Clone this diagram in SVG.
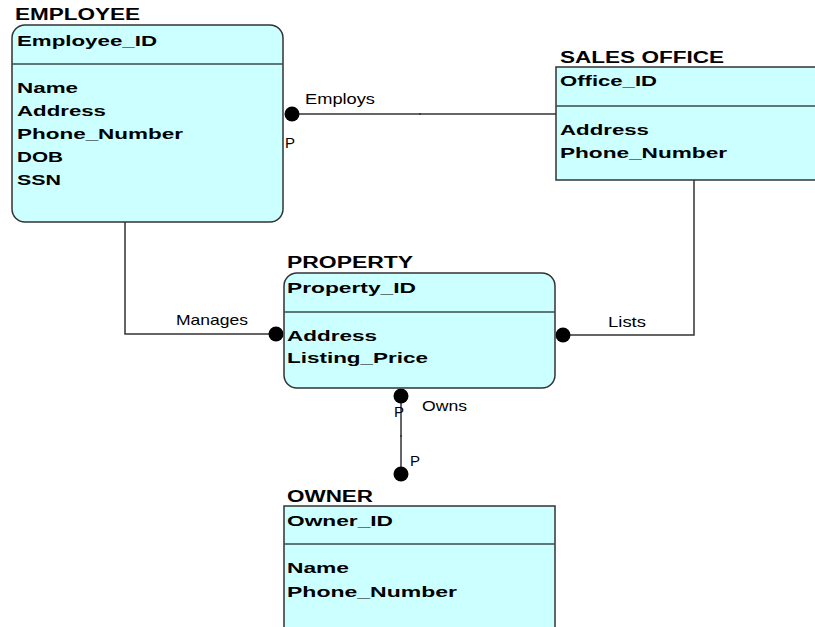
<svg xmlns="http://www.w3.org/2000/svg" width="815" height="627" viewBox="0 0 815 627">
<style>
.box{fill:#ccffff;stroke:#333;stroke-width:1.5}
.div{stroke:#3a4a4a;stroke-width:1.5}
.t{font-family:"Liberation Sans",Arial,sans-serif;font-weight:bold;font-size:15px;fill:#000}
.h{font-family:"Liberation Sans",Arial,sans-serif;font-weight:bold;font-size:16px;fill:#000}
.l{font-family:"Liberation Sans",Arial,sans-serif;font-size:15px;fill:#000}
.c{fill:none;stroke:#333;stroke-width:1.5}
.dot{fill:#000}
</style>
<rect width="815" height="627" fill="#fff"/>
<g id="connectors">
<line class="c" x1="292" y1="114" x2="556" y2="114"/>
<circle cx="420" cy="114" r="1" fill="#333"/>
<polyline class="c" points="125,222 125,334 276,334"/>
<polyline class="c" points="694,180 694,335 563,335"/>
<line class="c" x1="401" y1="396" x2="401" y2="474"/>
<circle cx="401" cy="436" r="1" fill="#333"/>
<circle class="dot" cx="292" cy="114" r="7.5"/>
<circle class="dot" cx="276" cy="334" r="7.5"/>
<circle class="dot" cx="563" cy="335" r="7.5"/>
<circle class="dot" cx="401" cy="396" r="7.5"/>
<circle class="dot" cx="401" cy="474" r="7.5"/>
<text class="l" x="305" y="104" textLength="70" lengthAdjust="spacingAndGlyphs">Employs</text>
<text class="l" x="285" y="148">P</text>
<text class="l" x="176" y="325" textLength="72" lengthAdjust="spacingAndGlyphs">Manages</text>
<text class="l" x="608" y="327" textLength="38" lengthAdjust="spacingAndGlyphs">Lists</text>
<text class="l" x="394" y="417">P</text>
<text class="l" x="422" y="411" textLength="45" lengthAdjust="spacingAndGlyphs">Owns</text>
<text class="l" x="410" y="466">P</text>
</g>
<g id="employee">
<text class="h" x="15" y="20" textLength="125" lengthAdjust="spacingAndGlyphs">EMPLOYEE</text>
<rect class="box" x="12" y="25" width="271" height="197" rx="13"/>
<line class="div" x1="12" y1="64" x2="283" y2="64"/>
<text class="t" x="17" y="46" textLength="140" lengthAdjust="spacingAndGlyphs">Employee_ID</text>
<text class="t" x="17" y="93" textLength="61" lengthAdjust="spacingAndGlyphs">Name</text>
<text class="t" x="17" y="116" textLength="89" lengthAdjust="spacingAndGlyphs">Address</text>
<text class="t" x="17" y="139" textLength="166" lengthAdjust="spacingAndGlyphs">Phone_Number</text>
<text class="t" x="17" y="162" textLength="46" lengthAdjust="spacingAndGlyphs">DOB</text>
<text class="t" x="17" y="185" textLength="44" lengthAdjust="spacingAndGlyphs">SSN</text>
</g>
<g id="sales-office">
<text class="h" x="560" y="63" textLength="164" lengthAdjust="spacingAndGlyphs">SALES OFFICE</text>
<rect class="box" x="556" y="67" width="271" height="113"/>
<line class="div" x1="556" y1="106" x2="827" y2="106"/>
<text class="t" x="560" y="86" textLength="97" lengthAdjust="spacingAndGlyphs">Office_ID</text>
<text class="t" x="560" y="135" textLength="89" lengthAdjust="spacingAndGlyphs">Address</text>
<text class="t" x="560" y="158" textLength="167" lengthAdjust="spacingAndGlyphs">Phone_Number</text>
</g>
<g id="property">
<text class="h" x="287" y="268" textLength="126" lengthAdjust="spacingAndGlyphs">PROPERTY</text>
<rect class="box" x="284" y="273" width="271" height="115" rx="13"/>
<line class="div" x1="284" y1="312" x2="555" y2="312"/>
<text class="t" x="287" y="293" textLength="129" lengthAdjust="spacingAndGlyphs">Property_ID</text>
<text class="t" x="287" y="341" textLength="90" lengthAdjust="spacingAndGlyphs">Address</text>
<text class="t" x="287" y="363" textLength="141" lengthAdjust="spacingAndGlyphs">Listing_Price</text>
</g>
<g id="owner">
<text class="h" x="287" y="502" textLength="86" lengthAdjust="spacingAndGlyphs">OWNER</text>
<rect class="box" x="284" y="506" width="271" height="140"/>
<line class="div" x1="284" y1="544" x2="555" y2="544"/>
<text class="t" x="287" y="526" textLength="106" lengthAdjust="spacingAndGlyphs">Owner_ID</text>
<text class="t" x="287" y="573" textLength="62" lengthAdjust="spacingAndGlyphs">Name</text>
<text class="t" x="287" y="597" textLength="170" lengthAdjust="spacingAndGlyphs">Phone_Number</text>
</g>
</svg>
